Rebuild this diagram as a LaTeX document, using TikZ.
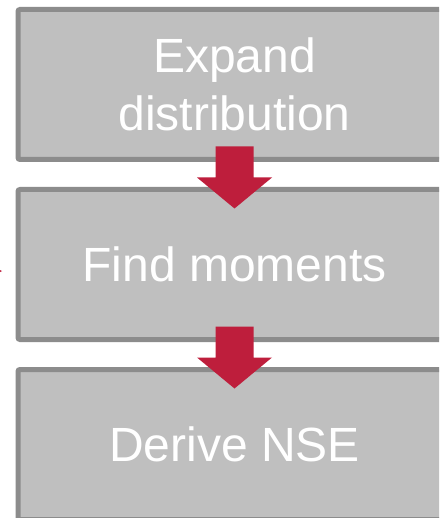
\documentclass[tikz,border=0pt]{standalone}
\usepackage{fontspec}
\setmainfont{Liberation Sans}
\usetikzlibrary{calc}
\definecolor{boxfill}{HTML}{BFBFBF}
\definecolor{boxline}{HTML}{8C8C8C}
\definecolor{arrowred}{HTML}{BE1E3C}
\tikzset{
  stagebox/.style={draw=boxline, fill=boxfill, line width=5pt, rounded corners=2pt,
    minimum width=433pt, minimum height=150pt, inner sep=0pt,
    text=white, align=center,
    font=\fontsize{48}{57.6}\selectfont},
  flowarrow/.style={fill=arrowred}
}
% block arrow hanging from the bottom of one box into the next
\newcommand{\blockarrow}[1]{%
  \fill[flowarrow] ($(#1)+(-19,15.5)$) -- ($(#1)+(19,15.5)$) -- ($(#1)+(19,-15.5)$)
    -- ($(#1)+(37.5,-15.5)$) -- ($(#1)+(0,-46.5)$) -- ($(#1)+(-37.5,-15.5)$)
    -- ($(#1)+(-19,-15.5)$) -- cycle;}
\begin{document}
\begin{tikzpicture}[x=1pt,y=1pt]
  \clip (0,0) rectangle (439,-518);
  \fill[white] (0,0) rectangle (439,-518);
  \node[stagebox] (expand) at (234.5,-84.5) {Expand\\distribution};
  \node[stagebox] (moments) at (234.5,-264.5) {Find moments};
  \node[stagebox] (derive) at (234.5,-444.5) {Derive NSE};
  \blockarrow{expand.south}
  \blockarrow{moments.south}
  % tip of an incoming pointer at the left edge
  \coordinate (pointer) at (moments.west -| 0,0);
  \fill[flowarrow] ($(pointer)+(0,-5.5)$) -- ($(pointer)+(2,-6.5)$) -- ($(pointer)+(0,-7.5)$) -- cycle;
\end{tikzpicture}
\end{document}
